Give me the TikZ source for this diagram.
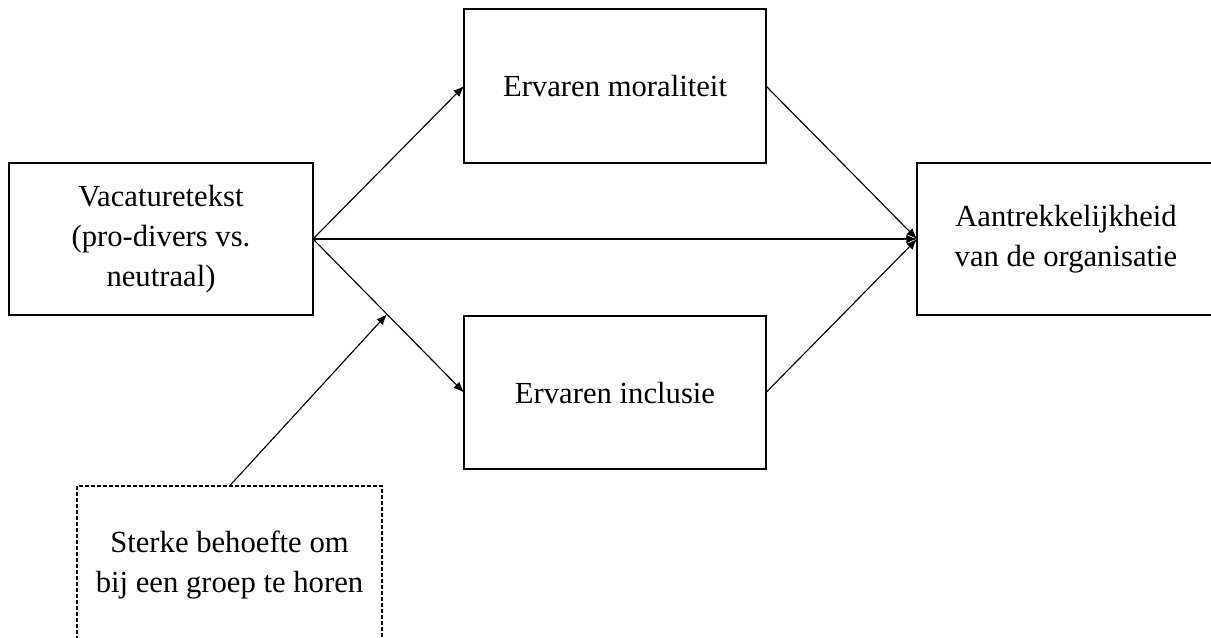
\documentclass[tikz,border=0pt]{standalone}
\usepackage{fontspec}
\setmainfont{Liberation Serif}
\usetikzlibrary{arrows.meta}

\begin{document}
\begin{tikzpicture}[x=0.75pt, y=-0.75pt,
        box/.style={draw, line width=0.95pt, inner sep=0pt, outer sep=0pt, align=center,
            font=\fontsize{23pt}{30pt}\selectfont},
        modbox/.style={box, dashed, dash pattern=on 3pt off 1.5pt, line width=0.8pt},
        arr/.style={line width=0.85pt, -{Latex[length=8pt, width=6.5pt]}}]
        \clip (0, 0) rectangle (1211, 637);

        \node[box, minimum width=228pt, minimum height=114pt] (vac) at (161, 239) {Vacaturetekst\\(pro-divers vs.\\neutraal)};
        \node[box, minimum width=226.5pt, minimum height=115.5pt] (moral) at (615, 86) {Ervaren moraliteit};
        \node[box, minimum width=226.5pt, minimum height=114.75pt] (incl) at (615, 392.5) {Ervaren inclusie};
        \node[box, minimum width=223.5pt, minimum height=114pt] (aantr) at (1066, 239) {Aantrekkelijkheid\\van de organisatie};
        \node[modbox, minimum width=228.75pt, minimum height=118.5pt] (sterke) at (229.5, 565) {Sterke behoefte om\\bij een groep te horen};

        \draw[arr] (vac.east) -- (moral.west);
        \draw[arr] (vac.east) -- (aantr.west);
        \draw[arr] (vac.east) -- coordinate[pos=0.49] (mod) (incl.west);
        \draw[arr] (moral.east) -- (aantr.west);
        \draw[arr] (incl.east) -- (aantr.west);
        \draw[arr] (sterke.north) -- (mod);
\end{tikzpicture}
\end{document}
